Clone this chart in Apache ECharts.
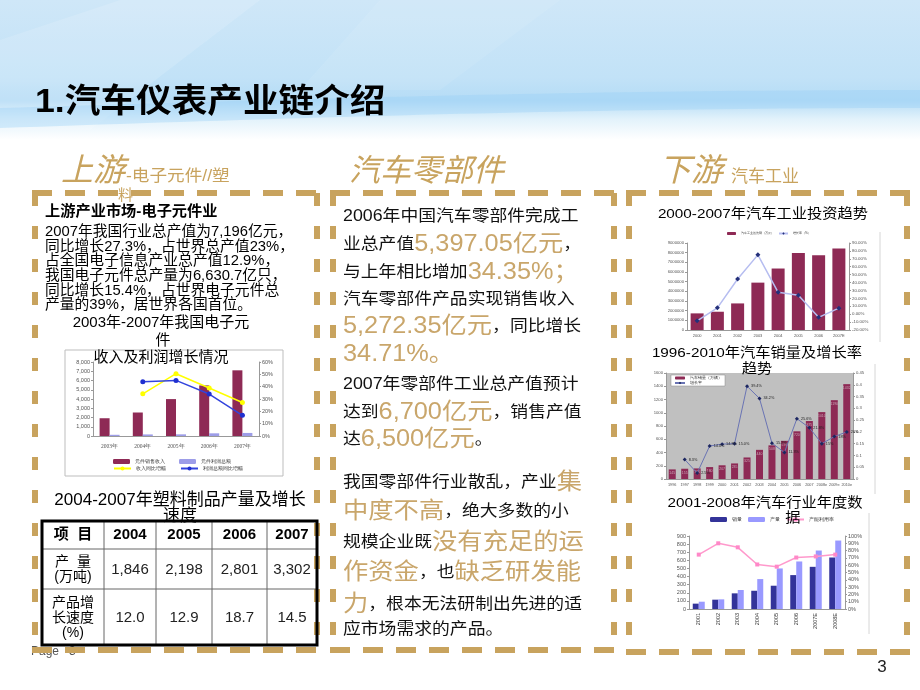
<!DOCTYPE html>
<html>
<head>
<meta charset="utf-8">
<script src="https://cdn.jsdelivr.net/npm/echarts@6/dist/echarts.min.js"></script>
<style>
html,body{margin:0;padding:0;background:#fff;}
#c{width:920px;height:690px;}
</style>
</head>
<body>
<div id="c"></div>
<script>
// ---------- data ----------
const years1 = ['2003年','2004年','2005年','2006年','2007年'];
const salesRevenue1 = [1920, 2540, 3990, 5470, 7100];
const profitTotal1 = [130, 170, 180, 290, 330];
const revenueGrowth1 = [null, 0.342, 0.505, 0.389, 0.272];
const profitGrowth1 = [null, 0.44, 0.451, 0.34, 0.168];

const years2 = ['2000','2001','2002','2003','2004','2005','2006','2007E'];
const investment2 = [1720000, 1890000, 2750000, 4900000, 6360000, 7970000, 7730000, 8420000];
const investGrowth2 = [-0.084, 0.08, 0.445, 0.75, 0.277, 0.24, -0.04, 0.076];

const years3 = ['1996','1997','1998','1999','2000','2001','2002','2003','2004','2005','2006','2007','2008e','2009e','2010e'];
const sales3 = [145, 155, 160, 180, 207, 235, 325, 440, 508, 576, 720, 875, 1010, 1190, 1432];
const growth3 = [null, 0.083, 0.025, 0.140, 0.148, 0.150, 0.394, 0.342, 0.152, 0.113, 0.256, 0.218, 0.15, 0.18, 0.20];

const years4 = ['2001','2002','2003','2004','2005','2006','2007E','2008E'];
const sales4 = [66, 115, 193, 225, 287, 418, 520, 635];
const output4 = [90, 119, 234, 369, 500, 586, 721, 844];
const utilization4 = [0.745, 0.90, 0.845, 0.61, 0.58, 0.705, 0.72, 0.745];

const tableYears = ['2004','2005','2006','2007'];
const plasticOutput = ['1,846','2,198','2,801','3,302'];
const plasticGrowth = ['12.0','12.9','18.7','14.5'];

// ---------- styles ----------
const GOLD = '#c8a35e';
const GOLDT = '#c9a66b';
const FONT = "'Liberation Sans','Noto Sans CJK SC',sans-serif";
const MAROON = '#8e2a55';
const AX = {fontSize: 5, color: '#555', fontFamily: 'Liberation Sans'};

function T(text, x, y, o) {
  o = o || {};
  const st = {
    text: text,
    fontSize: o.size || 14,
    fontFamily: o.family || FONT,
    fontWeight: o.weight || 'normal',
    fontStyle: o.fstyle || 'normal',
    fill: o.color || '#111',
    align: o.align || 'left',
    verticalAlign: 'middle'
  };
  if (o.rich) st.rich = o.rich;
  return {type: 'text', x: x, y: y, z: o.z == null ? 100 : o.z,
          scaleX: o.sx || 1, scaleY: o.sy || 1, style: st};
}
function L(x1, y1, x2, y2, o) {
  o = o || {};
  return {type: 'line', z: o.z == null ? 90 : o.z,
          shape: {x1: x1, y1: y1, x2: x2, y2: y2},
          style: {stroke: o.color || '#000', lineWidth: o.w || 1, lineDash: o.dash || null, lineCap: 'butt'}};
}
function P(points, fill, z) {
  return {type: 'polygon', z: z, shape: {points: points}, style: {fill: fill}};
}
// a smooth band (styling only)
function band(yTopL, yTopR, yBotL, yBotR) {
  const pts = [];
  for (let i = 0; i <= 46; i++) { const t = i / 46; pts.push([920 * t, yTopL + (yTopR - yTopL) * Math.sin(t * Math.PI / 2)]); }
  for (let i = 46; i >= 0; i--) { const t = i / 46; pts.push([920 * t, yBotL + (yBotR - yBotL) * Math.sin(t * Math.PI / 2)]); }
  return pts;
}

const G = [];
// background
G.push({type: 'rect', z: -9, shape: {x: 0, y: 0, width: 920, height: 140},
  style: {fill: new echarts.graphic.LinearGradient(0, 0, 0, 1, [
    {offset: 0, color: '#cfe7f8'}, {offset: 0.55, color: '#c2e2f7'},
    {offset: 0.72, color: '#b5dcf6'}, {offset: 0.85, color: '#e2f2fb'}, {offset: 1, color: '#ffffff'}])}});
G.push(P([[0, 40], [120, 0], [260, 0], [90, 130], [0, 130]], 'rgba(255,255,255,0.14)', -8));
G.push(P([[380, 0], [560, 0], [440, 90], [300, 90]], 'rgba(255,255,255,0.08)', -8));
G.push(P(band(108, 90, 128, 108), 'rgba(150,205,245,0.35)', -8));

// title
G.push(T('1.汽车仪表产业链介绍', 35, 103, {size: 33, weight: 'bold', sx: 1.08, color: '#000'}));

// section headers
G.push(T('上游', 61, 172, {size: 32, fstyle: 'italic', color: GOLD}));
G.push(T('-电子元件//塑', 126, 177, {size: 16, sx: 1.1, color: GOLD}));
G.push(T('料', 118, 196, {size: 15, color: GOLD, z: 80}));
G.push(T('汽车零部件', 349, 172, {size: 31, fstyle: 'italic', color: GOLD}));
G.push(T('下游', 659, 172, {size: 32, fstyle: 'italic', color: GOLD}));
G.push(T('汽车工业', 731, 177, {size: 17, color: GOLD}));

// Page text
G.push(T('Page   3', 31, 652, {size: 12, color: '#555', z: 70}));
G.push(T('3', 882, 667, {size: 17, color: '#222', align: 'center'}));

// dashed boxes
function box(x1, y1, x2, y2) {
  const H = [20, 13], V = [13, 20];
  G.push(L(x1 - 3, y1, x2 + 3, y1, {color: GOLD, w: 6, dash: H}));
  G.push(L(x1 - 3, y2, x2 + 3, y2, {color: GOLD, w: 6, dash: H}));
  G.push(L(x1, y1, x1, y2, {color: GOLD, w: 6, dash: V}));
  G.push(L(x2, y1, x2, y2, {color: GOLD, w: 6, dash: V}));
}
box(35, 193, 317, 650);
box(333, 193, 614, 650);
box(629, 193, 907, 652);

// upstream text
G.push(T('上游产业市场-电子元件业', 45, 212, {size: 14.5, sx: 1.05, weight: 'bold', color: '#000'}));
const upLines = ['2007年我国行业总产值为7,196亿元，',
  '同比增长27.3%，占世界总产值23%，',
  '占全国电子信息产业总产值12.9%，',
  '我国电子元件总产量为6,630.7亿只，',
  '同比增长15.4%，占世界电子元件总',
  '产量的39%，居世界各国首位。'];
const upY = [232, 247, 261, 276, 291, 305];
upLines.forEach((s, i) => G.push(T(s, 45, upY[i], {size: 14.5, sx: 1.02, color: '#000'})));
G.push(T('2003年-2007年我国电子元', 161, 323, {size: 15, align: 'center', color: '#000'}));
G.push(T('件', 163, 341, {size: 15, align: 'center', color: '#000'}));
G.push(T('收入及利润增长情况', 161, 358, {size: 15, align: 'center', color: '#000'}));

// chart 1 frame (below axes)
G.push({type: 'rect', z: -5, shape: {x: 65, y: 350, width: 218, height: 126}, style: {fill: '#fff', stroke: '#bdbdbd', lineWidth: 1}});
// right charts frames (right edges)
G.push(L(880, 232, 880, 342, {color: '#d6d6d6', w: 1, z: -5}));
G.push(L(875, 364, 875, 494, {color: '#d6d6d6', w: 1, z: -5}));
G.push(L(869, 513, 869, 634, {color: '#d6d6d6', w: 1, z: -5}));

// table
G.push(T('2004-2007年塑料制品产量及增长', 180, 500, {size: 17, align: 'center', color: '#000'}));
G.push(T('速度', 180, 516, {size: 17, align: 'center', color: '#000'}));
const colX = [42, 104, 156, 212, 267, 317];
const rowY = [521, 549, 589, 645];
for (let i = 1; i < 5; i++) G.push(L(colX[i], rowY[0], colX[i], rowY[3], {color: '#666', w: 1, z: 95}));
G.push(L(42, 549, 317, 549, {color: '#666', w: 1, z: 95}));
G.push(L(42, 589, 317, 589, {color: '#666', w: 1, z: 95}));
G.push({type: 'rect', z: 96, shape: {x: 42, y: 521, width: 275, height: 124}, style: {fill: 'rgba(0,0,0,0)', stroke: '#000', lineWidth: 3}});
G.push(T('项  目', 73, 535, {size: 15, weight: 'bold', align: 'center', color: '#000'}));
tableYears.forEach((s, i) => G.push(T(s, (colX[i + 1] + colX[i + 2]) / 2, 535, {size: 15, weight: 'bold', align: 'center', color: '#000'})));
G.push(T('产  量', 73, 562, {size: 14, align: 'center', color: '#000'}));
G.push(T('(万吨)', 73, 577, {size: 14, align: 'center', color: '#000'}));
plasticOutput.forEach((s, i) => G.push(T(s, (colX[i + 1] + colX[i + 2]) / 2, 570, {size: 15, align: 'center', color: '#222'})));
G.push(T('产品增', 73, 603, {size: 14, align: 'center', color: '#000'}));
G.push(T('长速度', 73, 618, {size: 14, align: 'center', color: '#000'}));
G.push(T('(%)', 73, 633, {size: 14, align: 'center', color: '#000'}));
plasticGrowth.forEach((s, i) => G.push(T(s, (colX[i + 1] + colX[i + 2]) / 2, 618, {size: 15, align: 'center', color: '#222'})));

// middle text
const RICH = {g: {fontSize: 23, fill: GOLDT, fontFamily: FONT}};
const mid = [
  ['2006年中国汽车零部件完成工', 217],
  ['业总产值{g|5,397.05亿元}，', 245],
  ['与上年相比增加{g|34.35%；}', 273],
  ['汽车零部件产品实现销售收入', 300],
  ['{g|5,272.35亿元}，同比增长', 327],
  ['{g|34.71%。}', 355],
  ['2007年零部件工业总产值预计', 385],
  ['达到{g|6,700亿元}，销售产值', 413],
  ['达{g|6,500亿元}。', 440],
  ['我国零部件行业散乱，产业{g|集}', 483],
  ['{g|中度不高}，绝大多数的小', 512],
  ['规模企业既{g|没有充足的运}', 543],
  ['{g|作资金}，也{g|缺乏研发能}', 573],
  ['{g|力}，根本无法研制出先进的适', 605],
  ['应市场需求的产品。', 630]
];
mid.forEach(m => G.push(T(m[0], 343, m[1], {size: 16.2, sx: 1.1, color: '#111', rich: RICH})));

// right titles
G.push(T('2000-2007年汽车工业投资趋势', 763, 214, {size: 13.5, sx: 1.13, align: 'center', color: '#000'}));
G.push(T('1996-2010年汽车销量及增长率', 757, 353, {size: 13.5, sx: 1.13, align: 'center', color: '#000'}));
G.push(T('趋势', 757, 369, {size: 13.5, sx: 1.13, align: 'center', color: '#000'}));
G.push(T('2001-2008年汽车行业年度数', 765, 503, {size: 13.5, sx: 1.13, align: 'center', color: '#000'}));
G.push(T('据', 793, 518, {size: 13.5, sx: 1.13, align: 'center', color: '#000'}));

function yAx(gi, pos, min, max, interval, fmt, fs) {
  return {gridIndex: gi, type: 'value', position: pos, min: min, max: max, interval: interval,
    splitLine: {show: false}, axisLine: {show: true, lineStyle: {color: '#999'}},
    axisTick: {show: true, length: 2, lineStyle: {color: '#999'}},
    axisLabel: Object.assign({}, AX, {fontSize: fs, margin: 3, formatter: fmt})};
}
function xAx(gi, data, extra) {
  return Object.assign({gridIndex: gi, type: 'category', data: data,
    axisLine: {show: true, lineStyle: {color: '#999'}}, axisTick: {show: false}}, extra);
}
const comma = v => String(v).replace(/\B(?=(\d{3})+(?!\d))/g, ',');

const option = {
  animation: false,
  backgroundColor: '#fff',
  grid: [
    {left: 93, top: 362, width: 166, height: 74},
    {left: 687, top: 243, width: 162, height: 87},
    {left: 666, top: 373, width: 187, height: 106, show: true, backgroundColor: '#c0c0c0', borderWidth: 0},
    {left: 689, top: 536, width: 156, height: 73}
  ],
  xAxis: [
    xAx(0, years1, {axisLabel: {fontSize: 5.5, color: '#555', fontFamily: 'Liberation Serif', margin: 8}}),
    xAx(1, years2, {axisLabel: Object.assign({}, AX, {fontSize: 4, margin: 4})}),
    xAx(2, years3, {axisLabel: Object.assign({}, AX, {fontSize: 3.8, margin: 4, interval: 0})}),
    xAx(3, years4, {axisLabel: Object.assign({}, AX, {fontSize: 5.5, rotate: 90, margin: 4, interval: 0, color: '#333'})})
  ],
  yAxis: [
    yAx(0, 'left', 0, 8000, 1000, v => comma(v), 5.5),
    yAx(0, 'right', 0, 0.6, 0.1, v => Math.round(v * 100) + '%', 5.5),
    yAx(1, 'left', 0, 9000000, 1000000, v => String(Math.round(v)), 4.2),
    yAx(1, 'right', -0.2, 0.9, 0.1, v => (v * 100).toFixed(2) + '%', 4.4),
    yAx(2, 'left', 0, 1600, 200, v => String(v), 4.2),
    yAx(2, 'right', 0, 0.45, 0.05, v => String(+v.toFixed(2)), 4.2),
    yAx(3, 'left', 0, 900, 100, v => String(v), 5.5),
    yAx(3, 'right', 0, 1, 0.1, v => Math.round(v * 100) + '%', 5.5)
  ],
  legend: [
    {data: ['元件销售收入', '元件利润总额'], left: 113, top: 459, padding: 0, itemWidth: 17, itemHeight: 5, itemGap: 14, textStyle: {fontSize: 5, color: '#333'}},
    {data: ['收入同比增幅', '利润总额同比增幅'], left: 113, top: 466, padding: 0, itemWidth: 17, itemHeight: 5, itemGap: 14, textStyle: {fontSize: 5, color: '#333'}},
    {data: ['汽车工业投资额（万元）', '增长率（%）'], left: 727, top: 232, padding: 0, itemWidth: 9, itemHeight: 3, itemGap: 4, textStyle: {fontSize: 3.2, color: '#333'}},
    {data: ['汽车销量（万辆）', '增长率'], orient: 'vertical', left: 671, top: 375, padding: [1, 3], itemGap: 1, itemWidth: 10, itemHeight: 3,
      backgroundColor: '#fff', borderColor: '#888', borderWidth: 0.5, textStyle: {fontSize: 3.8, color: '#333'}},
    {data: ['销量', '产量', '产能利用率'], left: 710, top: 517, padding: 0, itemWidth: 17, itemHeight: 5, itemGap: 6, textStyle: {fontSize: 5, color: '#333'}}
  ],
  series: [
    {name: '元件销售收入', type: 'bar', xAxisIndex: 0, yAxisIndex: 0, data: salesRevenue1, barWidth: 10, barGap: '0%', itemStyle: {color: MAROON}},
    {name: '元件利润总额', type: 'bar', xAxisIndex: 0, yAxisIndex: 0, data: profitTotal1, barWidth: 10, barGap: '0%', itemStyle: {color: '#9d9de8'}},
    {name: '收入同比增幅', type: 'line', xAxisIndex: 0, yAxisIndex: 1, data: revenueGrowth1, symbol: 'circle', symbolSize: 5,
      itemStyle: {color: '#ffff00'}, lineStyle: {color: '#ffff00', width: 1.5}},
    {name: '利润总额同比增幅', type: 'line', xAxisIndex: 0, yAxisIndex: 1, data: profitGrowth1, symbol: 'circle', symbolSize: 5,
      itemStyle: {color: '#1f2fd0'}, lineStyle: {color: '#3344dd', width: 1.5}},

    {name: '汽车工业投资额（万元）', type: 'bar', xAxisIndex: 1, yAxisIndex: 2, data: investment2, barWidth: 13, itemStyle: {color: MAROON}},
    {name: '增长率（%）', type: 'line', xAxisIndex: 1, yAxisIndex: 3, data: investGrowth2, symbol: 'diamond', symbolSize: 5,
      itemStyle: {color: '#24307a'}, lineStyle: {color: '#b6bdf0', width: 1.5}},

    {name: '汽车销量（万辆）', type: 'bar', xAxisIndex: 2, yAxisIndex: 4, data: sales3, barWidth: 7, itemStyle: {color: MAROON},
      label: {show: true, position: 'insideTop', fontSize: 3.5, color: '#c9a9b8', distance: 2}},
    {name: '增长率', type: 'line', xAxisIndex: 2, yAxisIndex: 5, data: growth3, symbol: 'diamond', symbolSize: 4,
      itemStyle: {color: '#1c2660'}, lineStyle: {color: '#6a74b4', width: 1},
      label: {show: true, position: 'right', fontSize: 3.8, color: '#222', distance: 2,
        formatter: p => p.dataIndex >= 12 ? Math.round(p.value * 100) + '%' : (p.value * 100).toFixed(1) + '%'}},

    {name: '销量', type: 'bar', xAxisIndex: 3, yAxisIndex: 6, data: sales4, barWidth: 6, barGap: '0%', itemStyle: {color: '#333399'}},
    {name: '产量', type: 'bar', xAxisIndex: 3, yAxisIndex: 6, data: output4, barWidth: 6, barGap: '0%', itemStyle: {color: '#9999ff'}},
    {name: '产能利用率', type: 'line', xAxisIndex: 3, yAxisIndex: 7, data: utilization4, symbol: 'rect', symbolSize: 4,
      itemStyle: {color: '#ff88c8'}, lineStyle: {color: '#ff99cc', width: 1.5}}
  ],
  graphic: {elements: G}
};
const chart = echarts.init(document.getElementById('c'), null, {renderer: 'canvas'});
chart.setOption(option);
</script>
</body>
</html>
